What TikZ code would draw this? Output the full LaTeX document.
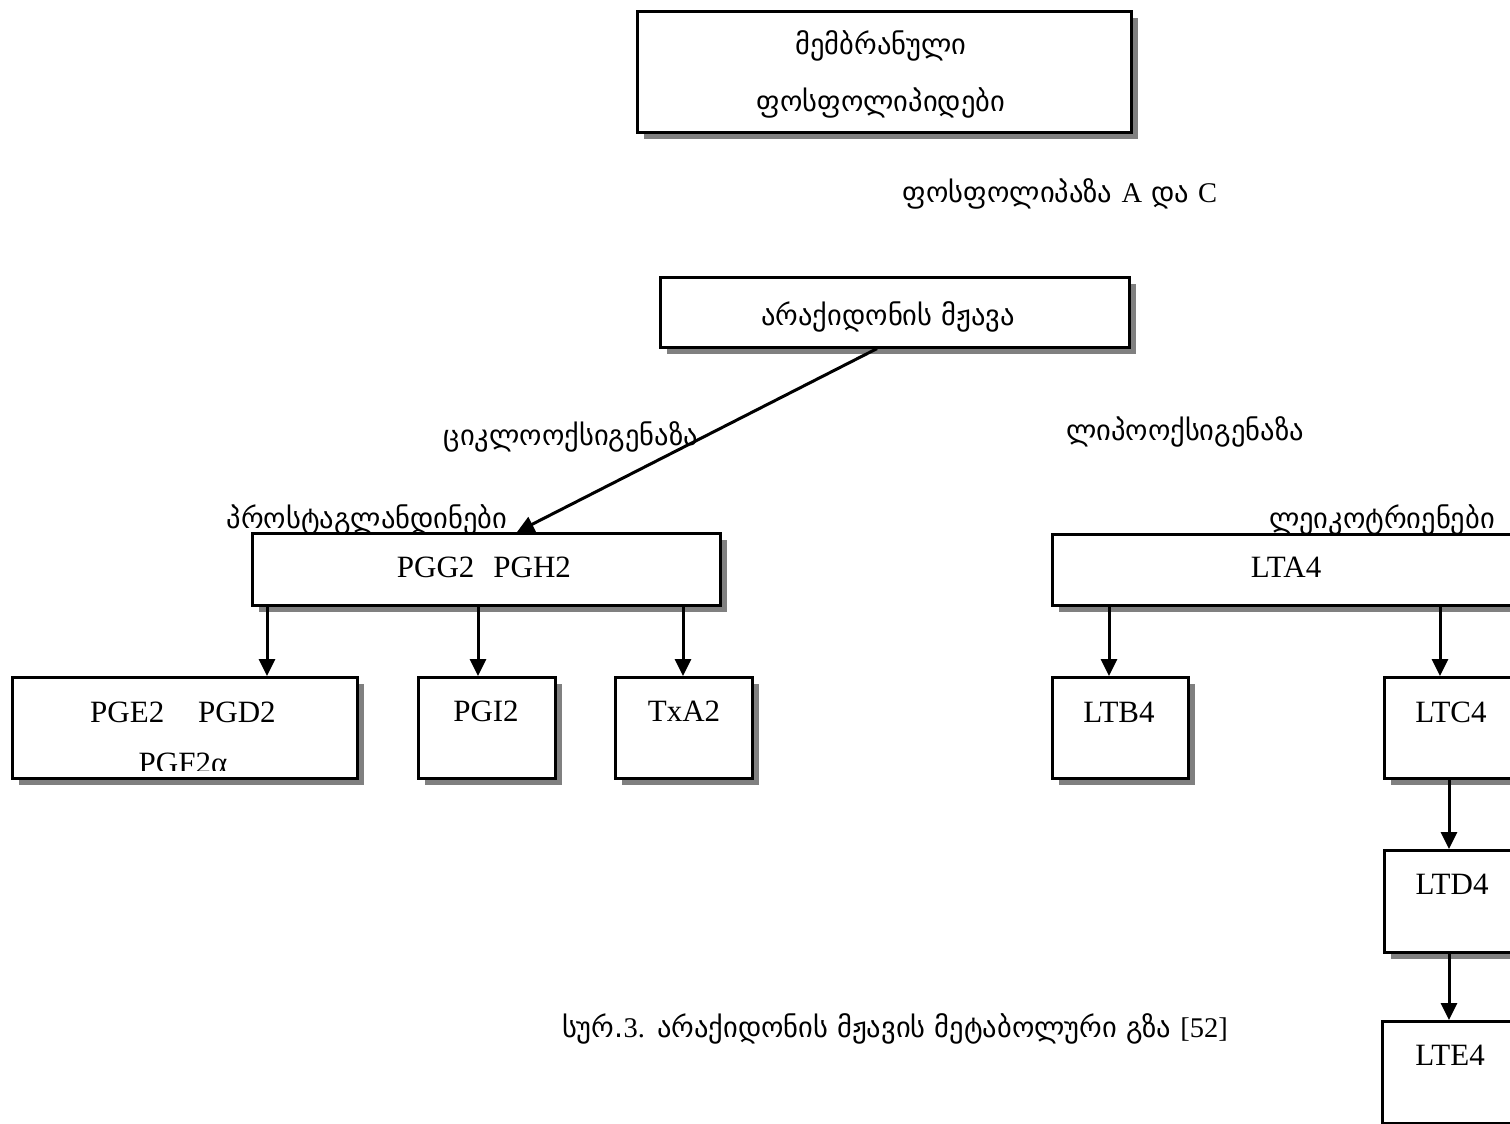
\documentclass[tikz,border=0pt]{standalone}
\usepackage{fontspec}
\setmainfont{Liberation Serif}
\newfontfamily\geo{DejaVu Sans}
\usetikzlibrary{arrows.meta,shadows,calc}
\begin{document}
\begin{tikzpicture}[x=1pt,y=-1pt,
  bx/.style={draw,line width=2.6pt,fill=white,inner sep=0pt,anchor=north west,
    drop shadow={shadow xshift=7pt,shadow yshift=-7pt,fill=black!50,opacity=1}},
  lat/.style={font=\fontsize{31}{36}\selectfont,inner sep=0pt,anchor=base},
  geot/.style={font=\geo\fontsize{28.5}{34}\selectfont,inner sep=0pt,anchor=base},
  arr/.style={line width=3pt,-{Triangle[length=17pt,width=16pt]}}]
\useasboundingbox (0,0) rectangle (1510,1124);
\clip (0,0) rectangle (1510,1124);
% boxes
\node[bx,minimum width=494pt,minimum height=121pt] (mem) at (636,10) {};
\node[bx,minimum width=469pt,minimum height=70pt] (ara) at (659,276) {};
\node[bx,minimum width=468pt,minimum height=72pt] (pgg) at (251,532) {};
\node[bx,minimum width=469pt,minimum height=71pt] (lta) at (1051,533) {};
\node[bx,minimum width=345pt,minimum height=101pt] (pge) at (11,676) {};
\node[bx,minimum width=137pt,minimum height=101pt] (pgi) at (417,676) {};
\node[bx,minimum width=137pt,minimum height=101pt] (txa) at (614,676) {};
\node[bx,minimum width=136pt,minimum height=101pt] (ltb) at (1051,676) {};
\node[bx,minimum width=137pt,minimum height=101pt] (ltc) at (1383,676) {};
\node[bx,minimum width=137pt,minimum height=102pt] (ltd) at (1383,849) {};
\node[bx,minimum width=138pt,minimum height=102pt] (lte) at (1381,1020) {};
% box texts
\node[geot] (memA) at (881,55) {მემბრანული};
\node[geot] (memB) at (881,111) {ფოსფოლიპიდები};
\node[geot] (araT) at (888,325) {არაქიდონის მჟავა};
\node[lat] (pggT) at (484,577) {PGG2\hspace{19pt}PGH2};
\node[lat] (ltaT) at (1286,577) {LTA4};
\node[lat] (pgeT) at (183,722) {PGE2\hspace{34pt}PGD2};
\begin{scope}
\clip (pge.north west) rectangle ([yshift=9pt]pge.south east);
\node[lat] (pgfT) at (183,773) {PGF2α};
\end{scope}
\node[lat] (pgiT) at (486,721) {PGI2};
\node[lat] (txaT) at (684,721) {TxA2};
\node[lat] (ltbT) at (1119,722) {LTB4};
\node[lat] (ltcT) at (1451,722) {LTC4};
\node[lat] (ltdT) at (1452,894) {LTD4};
\node[lat] (lteT) at (1450,1065) {LTE4};
% free labels
\node[geot] (phos) at (1060,202) {ფოსფოლიპაზა {\rmfamily A} და {\rmfamily C}};
\node[geot] (cyclo) at (571,445) {ციკლოოქსიგენაზა};
\node[geot] (lipo) at (1185,440) {ლიპოოქსიგენაზა};
\node[geot] (prost) at (367,528) {პროსტაგლანდინები};
\node[geot] (leuko) at (1382,528) {ლეიკოტრიენები};
\node[geot] (capt) at (895,1037) {სურ.{\rmfamily 3.} არაქიდონის მჟავის მეტაბოლური გზა {\rmfamily [52]}};
% connectors
\draw[arr] ([xshift=218pt]ara.south west) -- ([xshift=266pt]pgg.north west);
\coordinate (pgeIn) at ([xshift=256pt]pge.north west);
\coordinate (pgiIn) at ([xshift=61pt]pgi.north west);
\coordinate (txaIn) at ([xshift=69pt]txa.north west);
\draw[arr] (pgg.south -| pgeIn) -- (pgeIn);
\draw[arr] (pgg.south -| pgiIn) -- (pgiIn);
\draw[arr] (pgg.south -| txaIn) -- (txaIn);
\coordinate (ltbIn) at ([xshift=58pt]ltb.north west);
\coordinate (ltcIn) at ([xshift=57pt]ltc.north west);
\draw[arr] (lta.south -| ltbIn) -- (ltbIn);
\draw[arr] (lta.south -| ltcIn) -- (ltcIn);
\coordinate (ltdIn) at ([xshift=66pt]ltd.north west);
\coordinate (lteIn) at ([xshift=68pt]lte.north west);
\draw[arr] (ltc.south -| ltdIn) -- (ltdIn);
\draw[arr] (ltd.south -| lteIn) -- (lteIn);
\end{tikzpicture}
\end{document}
